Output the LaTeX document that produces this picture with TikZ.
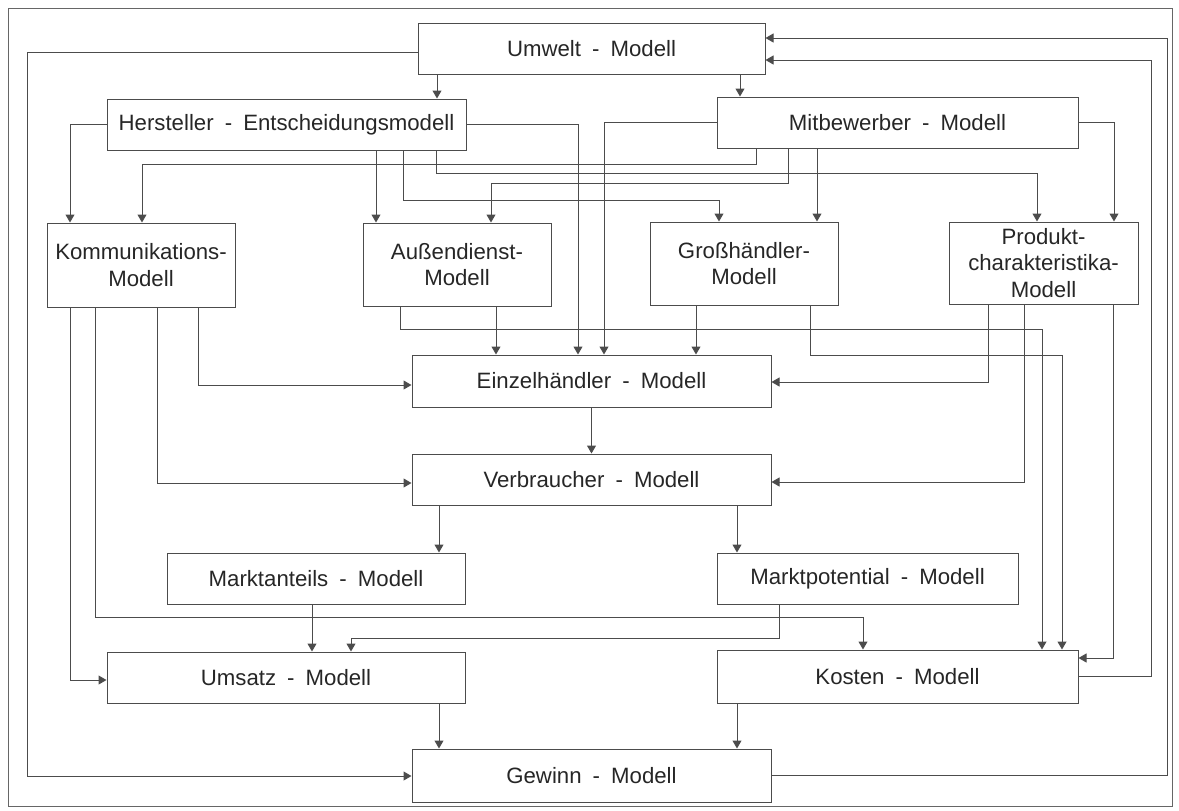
\documentclass[tikz,border=0pt]{standalone}
\usepackage{fontspec}
\setmainfont{Liberation Sans}
\usetikzlibrary{arrows.meta}

\begin{document}
\begin{tikzpicture}[x=0.5pt,y=-0.5pt,>={Triangle[length=4pt,width=4.5pt]},
		modell/.style={draw=black!70,line width=0.5pt,inner sep=0pt,align=center,text=black!85,
			font=\fontsize{11.1pt}{13.3pt}\selectfont,minimum height=25.5pt,minimum width=179.5pt},
		klein/.style={modell,minimum width=94pt,minimum height=41.5pt},
		pfeil/.style={->,draw=black!70,line width=0.5pt}]
	\useasboundingbox (0,0) rectangle (1179,810);
	\draw[black!60,line width=0.5pt] (8,8) rectangle (1172,806);

	\node[modell,minimum width=173.5pt] (umwelt) at (591.5,48.5) {Umwelt\enspace-\enspace Modell};
	\node[modell] (hersteller) at (286.5,124.5) {Hersteller\enspace-\enspace Entscheidungsmodell};
	\node[modell,minimum width=180.5pt] (mitbew) at (897.5,122.5) {Mitbewerber\enspace-\enspace Modell};
	\node[klein,minimum height=42pt] (komm) at (141,265) {Kommunikations-\\Modell};
	\node[klein] (aussen) at (457,264.5) {Außendienst-\\Modell};
	\node[klein] (gross) at (744,263.5) {Großhändler-\\Modell};
	\node[klein,minimum width=94.5pt,minimum height=41pt] (produkt) at (1043.5,263) {Produkt-\\charakteristika-\\Modell};
	\node[modell,minimum height=26pt] (einzel) at (591.5,381) {Einzelhändler\enspace-\enspace Modell};
	\node[modell] (verbr) at (591.5,479.5) {Verbraucher\enspace-\enspace Modell};
	\node[modell,minimum width=149pt] (marktant) at (316,578.5) {Marktanteils\enspace-\enspace Modell};
	\node[modell,minimum width=150.5pt] (marktpot) at (867.5,578.5) {Marktpotential\enspace-\enspace Modell};
	\node[modell,minimum width=179pt] (umsatz) at (286,677.5) {Umsatz\enspace-\enspace Modell};
	\node[modell,minimum width=180.5pt,minimum height=26.5pt] (kosten) at (897.5,676.5) {Kosten\enspace-\enspace Modell};
	\node[modell,minimum height=26.5pt] (gewinn) at (591.5,775.5) {Gewinn\enspace-\enspace Modell};

	% Umwelt
	\draw[pfeil] (umwelt.south -| 437,0) -- (hersteller.north -| 437,0);
	\draw[pfeil] (umwelt.south -| 740,0) -- (mitbew.north -| 740,0);
	\draw[pfeil] (umwelt.west |- 0,52) -| (27,776) -- (gewinn.west |- 0,776);

	% Hersteller
	\draw[pfeil] (hersteller.west) -| (komm.north -| 70,0);
	\draw[pfeil] (hersteller.south -| 376,0) -- (aussen.north -| 376,0);
	\draw[pfeil] (hersteller.south -| 403,0) |- (719,200) -- (gross.north -| 719,0);
	\draw[pfeil] (hersteller.south -| 436,0) |- (1037,173) -- (produkt.north -| 1037,0);
	\draw[pfeil] (hersteller.east) -| (einzel.north -| 578,0);

	% Mitbewerber
	\draw[pfeil] (mitbew.west) -| (einzel.north -| 604,0);
	\draw[pfeil] (mitbew.south -| 756,0) |- (142,164) -- (komm.north -| 142,0);
	\draw[pfeil] (mitbew.south -| 788,0) |- (491,183) -- (aussen.north -| 491,0);
	\draw[pfeil] (mitbew.south -| 817,0) -- (gross.north -| 817,0);
	\draw[pfeil] (mitbew.east) -| (produkt.north -| 1114,0);

	% Kommunikation
	\draw[pfeil] (komm.south -| 198,0) |- (einzel.west |- 0,385);
	\draw[pfeil] (komm.south -| 157,0) |- (verbr.west |- 0,483);
	\draw[pfeil] (komm.south -| 95,0) |- (863,617) -- (kosten.north -| 863,0);
	\draw[pfeil] (komm.south -| 70,0) |- (umsatz.west |- 0,680);

	% Aussendienst, Grosshaendler
	\draw[pfeil] (aussen.south -| 496,0) -- (einzel.north -| 496,0);
	\draw[pfeil] (aussen.south -| 400,0) |- (1042,329) -- (kosten.north -| 1042,0);
	\draw[pfeil] (gross.south -| 696,0) -- (einzel.north -| 696,0);
	\draw[pfeil] (gross.south -| 810,0) |- (1062,355) -- (kosten.north -| 1062,0);

	% Produktcharakteristika
	\draw[pfeil] (produkt.south -| 988,0) |- (einzel.east |- 0,382);
	\draw[pfeil] (produkt.south -| 1024,0) |- (verbr.east |- 0,482);
	\draw[pfeil] (produkt.south -| 1113,0) |- (kosten.east |- 0,658);

	% Verbraucher bis Gewinn
	\draw[pfeil] (einzel.south) -- (verbr.north);
	\draw[pfeil] (verbr.south -| 439,0) -- (marktant.north -| 439,0);
	\draw[pfeil] (verbr.south -| 737,0) -- (marktpot.north -| 737,0);
	\draw[pfeil] (marktant.south -| 312,0) -- (umsatz.north -| 312,0);
	\draw[pfeil] (marktpot.south -| 779,0) |- (351,638) -- (umsatz.north -| 351,0);
	\draw[pfeil] (umsatz.south -| 439,0) -- (gewinn.north -| 439,0);
	\draw[pfeil] (kosten.south -| 737,0) -- (gewinn.north -| 737,0);

	% Rueckkopplung
	\draw[pfeil] (kosten.east) -| (1151,60) -- (umwelt.east |- 0,60);
	\draw[pfeil] (gewinn.east) -| (1167,38) -- (umwelt.east |- 0,38);
\end{tikzpicture}
\end{document}
